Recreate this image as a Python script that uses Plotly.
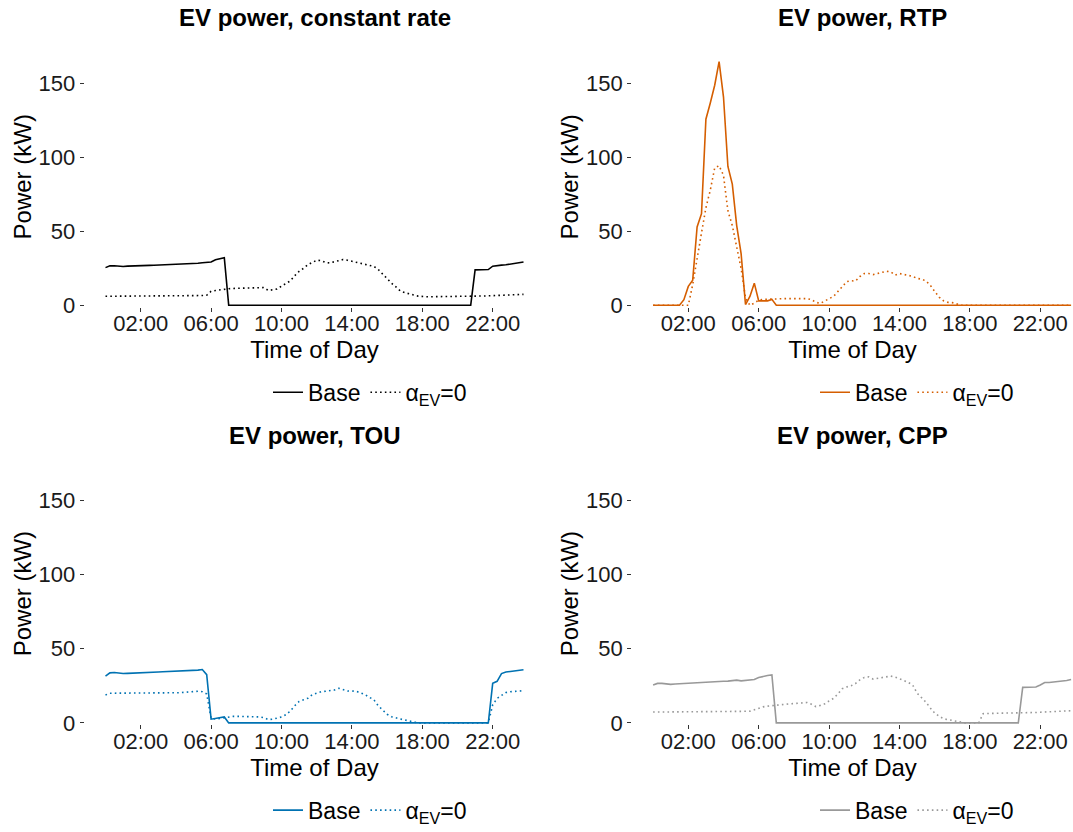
import pandas as pd
import plotly.graph_objects as go

# ---------------- data (15-minute resolution, 00:00 .. 23:45) ----------------
times = pd.date_range("2020-01-01 00:00", periods=96, freq="15min")

const_base = [
    25.5, 26.7, 26.8, 26.5, 26.3, 26.5, 26.7, 26.7,
    26.8, 26.9, 27.0, 27.1, 27.2, 27.4, 27.5, 27.6,
    27.7, 27.8, 27.9, 28.2, 28.0, 28.5, 28.8, 29.0,
    29.3, 30.8, 31.5, 32.2, 0.0, 0.0, 0.0, 0.0,
    0.0, 0.0, 0.0, 0.0, 0.0, 0.0, 0.0, 0.0,
    0.0, 0.0, 0.0, 0.0, 0.0, 0.0, 0.0, 0.0,
    0.0, 0.0, 0.0, 0.0, 0.0, 0.0, 0.0, 0.0,
    0.0, 0.0, 0.0, 0.0, 0.0, 0.0, 0.0, 0.0,
    0.0, 0.0, 0.0, 0.0, 0.0, 0.0, 0.0, 0.0,
    0.0, 0.0, 0.0, 0.0, 0.0, 0.0, 0.0, 0.0,
    0.0, 0.0, 0.0, 0.0, 24.0, 24.0, 24.0, 24.2,
    26.5, 27.0, 27.2, 27.4, 27.8, 28.3, 28.8, 29.3,
]
const_a0 = [
    6.1, 6.1, 6.1, 6.1, 6.2, 6.2, 6.2, 6.2,
    6.2, 6.2, 6.2, 6.2, 6.3, 6.3, 6.3, 6.3,
    6.3, 6.3, 6.3, 6.4, 6.4, 6.5, 6.6, 6.8,
    9.5, 10.0, 10.5, 11.0, 11.2, 11.4, 11.5, 11.6,
    11.7, 11.8, 12.0, 12.2, 12.0, 10.0, 10.5, 11.0,
    13.0, 15.0, 16.5, 20.0, 23.0, 25.0, 27.5, 29.0,
    30.5, 30.3, 29.0, 28.7, 29.5, 30.5, 31.0, 30.5,
    29.8, 29.4, 28.7, 28.0, 27.2, 26.3, 24.2, 21.0,
    17.5, 15.0, 12.5, 9.7, 8.6, 7.6, 7.0, 6.2,
    5.8, 5.8, 5.8, 5.8, 5.8, 5.8, 5.8, 5.8,
    5.8, 5.8, 5.8, 5.8, 6.2, 6.3, 6.3, 6.4,
    6.5, 6.6, 6.7, 6.8, 6.9, 7.0, 7.2, 7.4,
]
rtp_base = [
    0.0, 0.0, 0.0, 0.0, 0.0, 0.0, 0.0, 3.8,
    12.8, 17.0, 53.0, 62.0, 126.0, 137.0, 149.0, 165.0,
    141.0, 94.0, 82.0, 54.0, 35.0, 0.5, 6.0, 15.0,
    3.0, 3.0, 3.0, 4.0, 0.0, 0.0, 0.0, 0.0,
    0.0, 0.0, 0.0, 0.0, 0.0, 0.0, 0.0, 0.0,
    0.0, 0.0, 0.0, 0.0, 0.0, 0.0, 0.0, 0.0,
    0.0, 0.0, 0.0, 0.0, 0.0, 0.0, 0.0, 0.0,
    0.0, 0.0, 0.0, 0.0, 0.0, 0.0, 0.0, 0.0,
    0.0, 0.0, 0.0, 0.0, 0.0, 0.0, 0.0, 0.0,
    0.0, 0.0, 0.0, 0.0, 0.0, 0.0, 0.0, 0.0,
    0.0, 0.0, 0.0, 0.0, 0.0, 0.0, 0.0, 0.0,
    0.0, 0.0, 0.0, 0.0, 0.0, 0.0, 0.0, 0.0,
]
rtp_a0 = [
    0.0, 0.0, 0.0, 0.0, 0.0, 0.0, 0.0, 0.0,
    0.0, 14.0, 33.0, 49.0, 66.0, 78.0, 93.0, 94.5,
    88.0, 64.0, 54.0, 40.0, 25.0, 5.0, 0.0, 1.5,
    3.5, 4.0, 4.2, 4.3, 4.4, 4.5, 4.5, 4.5,
    4.4, 4.4, 4.5, 4.5, 3.8, 2.0, 1.3, 3.1,
    4.5, 6.0, 9.4, 12.5, 16.0, 16.6, 16.4, 19.5,
    21.5, 21.5, 20.8, 21.5, 22.3, 23.0, 22.7, 20.5,
    21.5, 20.8, 20.1, 19.6, 18.2, 17.7, 16.5, 13.5,
    9.4, 5.5, 3.0, 2.0, 1.8, 1.0, 0.0, 0.0,
    0.0, 0.0, 0.0, 0.0, 0.0, 0.0, 0.0, 0.0,
    0.0, 0.0, 0.0, 0.0, 0.0, 0.0, 0.0, 0.0,
    0.0, 0.0, 0.0, 0.0, 0.0, 0.0, 0.0, 0.0,
]
tou_base = [
    31.5, 33.7, 33.9, 33.5, 33.2, 33.3, 33.5, 33.7,
    33.8, 34.0, 34.1, 34.2, 34.3, 34.4, 34.5, 34.5,
    34.6, 34.8, 35.0, 35.2, 35.3, 35.5, 35.9, 32.5,
    2.5, 3.0, 3.2, 4.0, 0.0, 0.0, 0.0, 0.0,
    0.0, 0.0, 0.0, 0.0, 0.0, 0.0, 0.0, 0.0,
    0.0, 0.0, 0.0, 0.0, 0.0, 0.0, 0.0, 0.0,
    0.0, 0.0, 0.0, 0.0, 0.0, 0.0, 0.0, 0.0,
    0.0, 0.0, 0.0, 0.0, 0.0, 0.0, 0.0, 0.0,
    0.0, 0.0, 0.0, 0.0, 0.0, 0.0, 0.0, 0.0,
    0.0, 0.0, 0.0, 0.0, 0.0, 0.0, 0.0, 0.0,
    0.0, 0.0, 0.0, 0.0, 0.0, 0.0, 0.0, 0.0,
    26.6, 28.0, 33.2, 34.2, 34.6, 35.0, 35.4, 35.8,
]
tou_a0 = [
    18.8, 20.0, 20.0, 20.0, 20.0, 20.0, 20.1, 20.1,
    20.1, 20.1, 20.2, 20.2, 20.2, 20.2, 20.3, 20.3,
    20.3, 20.3, 20.6, 21.0, 21.3, 21.3, 21.0, 19.5,
    3.0, 2.7, 3.0, 3.5, 4.2, 4.4, 4.4, 4.4,
    4.3, 4.3, 4.2, 4.0, 3.5, 2.2, 2.5, 3.3,
    4.0, 5.5, 8.0, 11.5, 14.4, 15.5, 16.6, 19.0,
    20.2, 21.0, 21.3, 21.6, 22.1, 23.3, 22.5, 21.5,
    21.5, 21.2, 20.2, 19.0, 17.2, 15.5, 11.5, 8.5,
    5.8, 4.2, 3.2, 2.6, 2.0, 1.4, 0.3, 0.0,
    0.0, 0.0, 0.0, 0.0, 0.0, 0.0, 0.0, 0.0,
    0.0, 0.0, 0.0, 0.0, 0.0, 0.0, 0.0, 0.0,
    12.2, 16.5, 18.5, 20.4, 21.0, 21.3, 21.5, 21.7,
]
cpp_base = [
    25.5, 26.6, 26.6, 26.3, 25.9, 26.2, 26.4, 26.5,
    26.7, 27.0, 27.2, 27.4, 27.6, 27.8, 27.9, 28.0,
    28.0, 28.1, 28.3, 28.8, 28.3, 28.5, 29.0, 29.2,
    30.5, 31.3, 31.9, 32.3, 0.0, 0.0, 0.0, 0.0,
    0.0, 0.0, 0.0, 0.0, 0.0, 0.0, 0.0, 0.0,
    0.0, 0.0, 0.0, 0.0, 0.0, 0.0, 0.0, 0.0,
    0.0, 0.0, 0.0, 0.0, 0.0, 0.0, 0.0, 0.0,
    0.0, 0.0, 0.0, 0.0, 0.0, 0.0, 0.0, 0.0,
    0.0, 0.0, 0.0, 0.0, 0.0, 0.0, 0.0, 0.0,
    0.0, 0.0, 0.0, 0.0, 0.0, 0.0, 0.0, 0.0,
    0.0, 0.0, 0.0, 0.0, 23.9, 23.9, 23.9, 24.2,
    25.5, 27.2, 27.2, 27.4, 27.6, 27.9, 28.5, 29.2,
]
cpp_a0 = [
    7.3, 7.3, 7.4, 7.4, 7.4, 7.4, 7.5, 7.5,
    7.5, 7.5, 7.5, 7.6, 7.6, 7.6, 7.6, 7.7,
    7.7, 7.7, 7.7, 7.8, 7.8, 7.8, 7.9, 9.0,
    10.0, 10.8, 11.3, 11.7, 12.0, 12.3, 12.6, 12.8,
    13.0, 13.2, 13.4, 13.7, 12.5, 11.0, 11.8, 12.8,
    14.8, 16.5, 19.5, 23.0, 24.2, 25.0, 26.5, 29.0,
    30.6, 31.0, 29.5, 30.0, 30.6, 31.3, 31.5, 30.8,
    29.8, 28.5, 27.2, 25.5, 20.0, 17.0, 14.0, 10.0,
    6.6, 4.5, 2.8, 2.2, 1.6, 1.0, 0.5, 0.0,
    0.0, 0.0, 0.0, 6.2, 6.4, 6.5, 6.5, 6.6,
    6.6, 6.6, 6.6, 6.6, 6.6, 6.8, 7.0, 7.0,
    7.2, 7.4, 7.6, 7.8, 7.9, 8.0, 8.1, 8.2,
]

tick_labels = ["02:00", "06:00", "10:00", "14:00", "18:00", "22:00"]
y_ticks = [0, 50, 100, 150]
panel_titles = ["EV power, constant rate", "EV power, RTP", "EV power, TOU", "EV power, CPP"]
series_names = ["Base", "α<sub>EV</sub>=0"]

panels = [
    (const_base, const_a0, "#000000"),
    (rtp_base, rtp_a0, "#D55E00"),
    (tou_base, tou_a0, "#0072B2"),
    (cpp_base, cpp_a0, "#999999"),
]

# ---------------- layout geometry ----------------
W, H = 1073, 832
FONT = "Liberation Sans, Arial, Helvetica, sans-serif"
day0 = pd.Timestamp("2020-01-01 00:00")
tickvals = [pd.Timestamp("2020-01-01 " + t) for t in tick_labels]

x_dom = {0: [84.6 / W, 544.4 / W], 1: [632.2 / W, 1.0]}
x_rng = {
    0: [day0 - pd.Timedelta(hours=1.1875), day0 + pd.Timedelta(hours=24.9375)],
    1: [day0 - pd.Timedelta(hours=1.1875), day0 + pd.Timedelta(hours=23.858)],
}
title_x = {0: (84.6 + 544.4) / 2 / W, 1: (632.2 + 1091.9) / 2 / W}
y_dom = {0: [1 - 310.5 / H, 1 - 47.4 / H], 1: [1 - 733.2 / H, 1 - 468.5 / H]}
y_rng = [-1, 175]

title_y = {0: 18, 1: 441}
legend_pos = {(0, 0): (370, 397), (0, 1): (917, 397), (1, 0): (370, 820), (1, 1): (917, 820)}

fig = go.Figure()
layout = dict(
    width=W, height=H,
    margin=dict(l=0, r=0, t=0, b=0),
    paper_bgcolor="white", plot_bgcolor="white",
    font=dict(family=FONT, color="#000000"),
    annotations=[],
)

for k, (base, a0, color) in enumerate(panels):
    row, col = divmod(k, 2)
    idx = "" if k == 0 else str(k + 1)
    leg = "legend" if k == 0 else f"legend{k + 1}"
    fig.add_trace(go.Scatter(
        x=times, y=base, mode="lines", name=series_names[0],
        line=dict(color=color, width=1.6), xaxis="x" + idx, yaxis="y" + idx,
        legend=leg, showlegend=True,
    ))
    fig.add_trace(go.Scatter(
        x=times, y=a0, mode="lines", name=series_names[1],
        line=dict(color=color, width=1.6, dash="1.6px,3.2px"),
        xaxis="x" + idx, yaxis="y" + idx, legend=leg, showlegend=True,
    ))
    layout["xaxis" + idx] = dict(
        domain=x_dom[col], range=x_rng[col], anchor="y" + idx,
        tickmode="array", tickvals=tickvals, ticktext=tick_labels,
        ticks="outside", ticklen=4, tickwidth=1, tickcolor="#333333",
        ticklabelstandoff=-7,
        showgrid=False, zeroline=False, showline=False,
        tickfont=dict(size=22, color="#1a1a1a"),
        title=dict(text="Time of Day", font=dict(size=24), standoff=0),
    )
    layout["yaxis" + idx] = dict(
        domain=y_dom[row], range=y_rng, anchor="x" + idx,
        tickmode="array", tickvals=y_ticks,
        ticks="outside", ticklen=4, tickwidth=1, tickcolor="#333333",
        showgrid=False, zeroline=False, showline=False,
        tickfont=dict(size=22, color="#1a1a1a"),
        title=dict(text="Power (kW)", font=dict(size=24), standoff=0),
    )
    lx, ly = legend_pos[(row, col)]
    layout[leg] = dict(
        orientation="h", x=lx / W, y=1 - ly / H, xanchor="center", yanchor="middle",
        font=dict(size=23, color="#000000"), itemwidth=30,
        bgcolor="rgba(0,0,0,0)", traceorder="normal",
    )
    layout["annotations"].append(dict(
        text="<b>" + panel_titles[k] + "</b>", xref="paper", yref="paper",
        x=title_x[col], y=1 - title_y[row] / H, xanchor="center", yanchor="middle",
        showarrow=False, font=dict(size=24, color="#000000"),
    ))

fig.update_layout(**layout)
fig.write_html("out.html")
